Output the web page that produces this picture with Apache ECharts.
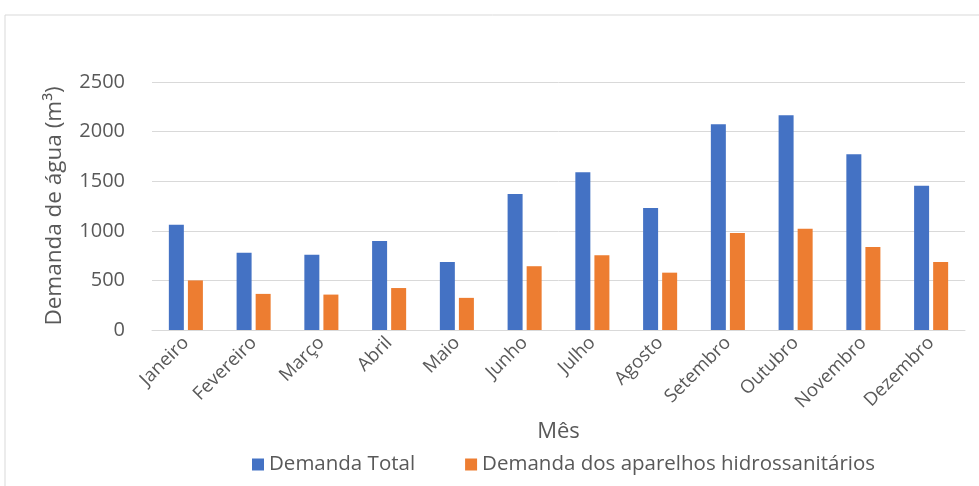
<!DOCTYPE html>
<html>
<head>
<meta charset="utf-8">
<script src="https://cdn.jsdelivr.net/npm/echarts@6/dist/echarts.min.js"></script>
<style>
  html, body { margin: 0; padding: 0; background: #fff; }
  #chart { width: 979px; height: 486px; }
</style>
</head>
<body>
<div id="chart"></div>
<script>
  // dados
  var meses = ['Janeiro', 'Fevereiro', 'Março', 'Abril', 'Maio', 'Junho', 'Julho', 'Agosto', 'Setembro', 'Outubro', 'Novembro', 'Dezembro'];
  var demandaTotal = [1060, 778, 758, 898, 686, 1370, 1590, 1230, 2073, 2164, 1772, 1455];
  var demandaAparelhos = [500, 364, 357, 423, 324, 643, 753, 578, 978, 1020, 837, 686];
  var yTicks = [0, 500, 1000, 1500, 2000, 2500];

  var chart = echarts.init(document.getElementById('chart'));
  var fonte = 'Open Sans';
  var cinza = '#595959';

  var options = {
    animation: false,
    textStyle: { fontFamily: fonte },
    graphic: [{
      type: 'rect',
      shape: { x: 5, y: 15, width: 990, height: 490 },
      style: { fill: 'none', stroke: '#d9d9d9', lineWidth: 1 },
      silent: true
    }],
    grid: { left: 152, right: 14, top: 82, bottom: 156 },
    legend: {
      left: 247,
      bottom: 6,
      icon: 'rect',
      itemWidth: 12,
      itemHeight: 12,
      itemGap: 50,
      itemStyle: { borderWidth: 0 },
      textStyle: { color: cinza, fontSize: 20.5, fontFamily: fonte },
      data: ['Demanda Total', 'Demanda dos aparelhos hidrossanitários']
    },
    xAxis: {
      type: 'category',
      data: meses,
      name: 'Mês',
      nameLocation: 'middle',
      nameGap: 91,
      nameTextStyle: { color: cinza, fontSize: 22 },
      axisLine: { lineStyle: { color: '#d9d9d9' } },
      axisTick: { show: false },
      axisLabel: { rotate: 45, color: cinza, fontSize: 18.5, margin: 10, interval: 0 }
    },
    yAxis: {
      type: 'value',
      min: yTicks[0],
      max: yTicks[yTicks.length - 1],
      interval: 500,
      name: 'Demanda de água (m³)',
      nameLocation: 'middle',
      nameGap: 86,
      nameTextStyle: { color: cinza, fontSize: 22.5 },
      axisLabel: {
        color: cinza,
        fontSize: 20,
        margin: 27,
        formatter: function (v) { return String(v); }
      },
      splitLine: { lineStyle: { color: '#d9d9d9', width: 1 } }
    },
    series: [
      {
        name: 'Demanda Total',
        type: 'bar',
        data: demandaTotal,
        barWidth: 15,
        barGap: '27%',
        itemStyle: { color: '#4472C4' }
      },
      {
        name: 'Demanda dos aparelhos hidrossanitários',
        type: 'bar',
        data: demandaAparelhos,
        barWidth: 15,
        itemStyle: { color: '#ED7D31' }
      }
    ]
  };
  chart.setOption(options);
</script>
</body>
</html>
